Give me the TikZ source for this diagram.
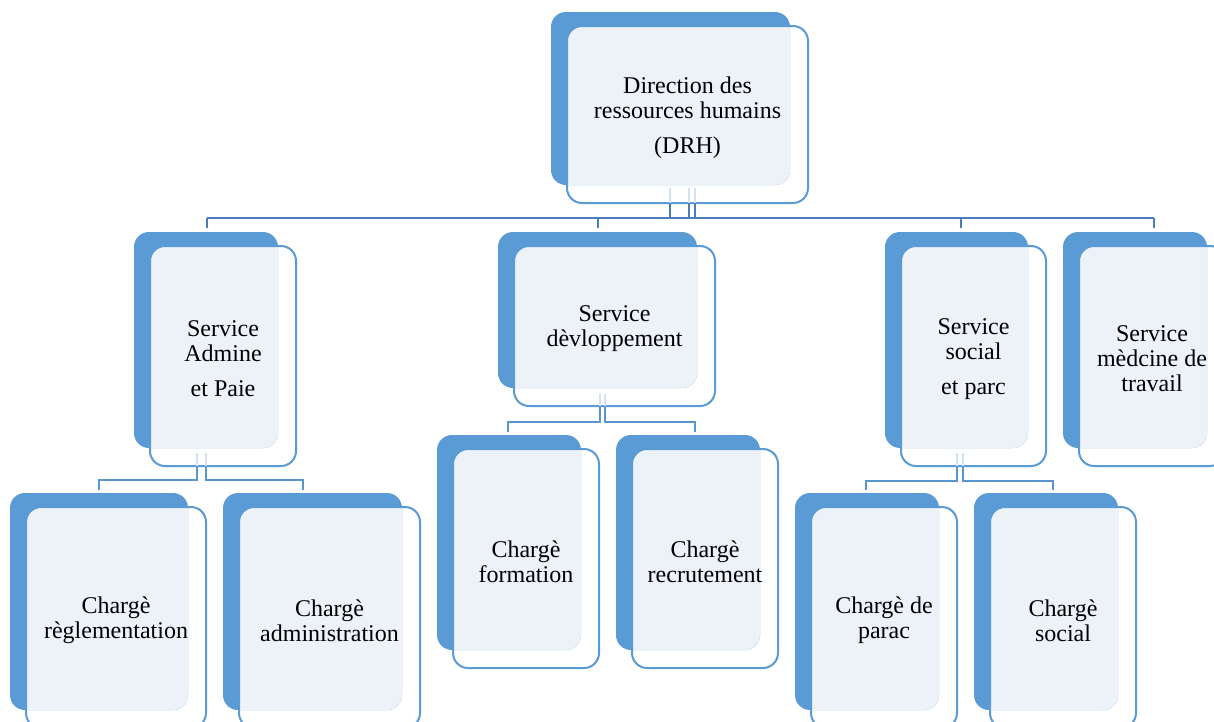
\documentclass[tikz,border=0pt]{standalone}
\usepackage{fontspec}
\setmainfont{Liberation Serif}
\definecolor{bk}{HTML}{5B9BD5}
\definecolor{fr}{HTML}{EDF2F9}
\definecolor{cnA}{HTML}{4A7EBB}
\definecolor{cnB}{HTML}{5A96CE}
\definecolor{fd}{HTML}{D3E1F2}
\tikzset{
  x=1pt, y=-1pt,
  backbox/.style={fill=bk, rounded corners=15pt, inner sep=0pt, outer sep=0pt, draw=none},
  frontbox/.style={draw=bk, line width=2pt, rounded corners=15pt, inner sep=0pt, outer sep=0pt},
  boxtext/.style={align=center, font=\fontsize{24}{25}\selectfont, text=black, inner sep=0pt},
  connA/.style={draw=cnA, line width=2.6pt, line join=miter},
  connB/.style={draw=cnB, line width=2.4pt, line join=miter},
  fadeline/.style={draw=fd, line width=2pt},
}
\newcommand\orgbox[6]{%
  \pgfmathsetmacro\obBW{#4-#2}\pgfmathsetmacro\obBH{#5-#3}%
  \pgfmathsetmacro\obBX{(#2+#4)/2}\pgfmathsetmacro\obBY{(#3+#5)/2}%
  \pgfmathsetmacro\obFW{#4-#2+2}\pgfmathsetmacro\obFH{#5-#3+4}%
  \pgfmathsetmacro\obFX{(#2+#4)/2+17}\pgfmathsetmacro\obFY{(#3+#5)/2+16}%
  \node[backbox, minimum width=\obBW pt, minimum height=\obBH pt] (#1B) at (\obBX,\obBY) {};
  \begin{scope}
    \clip[rounded corners=15pt] (#2,#3) rectangle (#4,#5);
    \fill[fr, rounded corners=15pt] ({#2+16},{#3+14}) rectangle ({#4+18},{#5+18});
  \end{scope}
  \node[frontbox, minimum width=\obFW pt, minimum height=\obFH pt] (#1) at (\obFX,\obFY) {};
  \node[boxtext] (#1T) at ([yshift=-3pt]#1.center) {#6};
}
\begin{document}
\begin{tikzpicture}
\fill[white] (0,0) rectangle (1214,721);
\useasboundingbox (0,0) rectangle (1214,721);

\orgbox{drh}{551}{12}{790}{185}{Direction des\\ressources humains\\[10pt](DRH)}
\orgbox{adm}{134}{232}{278}{448}{Service\\Admine\\[10pt]et Paie}
\orgbox{dev}{498}{232}{697}{388}{Service\\dèvloppement}
\orgbox{soc}{885}{232}{1028}{448}{Service\\social\\[10pt]et parc}
\orgbox{med}{1063}{232}{1207}{448}{Service\\mèdcine de\\travail}
\orgbox{reg}{10}{493}{188}{710}{Chargè\\règlementation}
\orgbox{adt}{223}{493}{402}{710}{Chargè\\administration}
\orgbox{frm}{437}{435}{581}{650}{Chargè\\formation}
\orgbox{rec}{616}{435}{760}{650}{Chargè\\recrutement}
\orgbox{par}{795}{493}{939}{710}{Chargè de\\parac}
\orgbox{scl}{974}{493}{1118}{710}{Chargè\\social}

% junction coordinates
\coordinate (r1) at (670,218);
\coordinate (r2) at (689,218);
\coordinate (r3) at (695,218);
\coordinate (t1) at (207,218);
\coordinate (t2) at (598,218);
\coordinate (t3) at (961,218);
\coordinate (t4) at (1154,218);
\coordinate (a1) at (197,480);
\coordinate (a2) at (206,480);
\coordinate (a3) at (303,480);
\coordinate (d1) at (600,422);
\coordinate (d2) at (605,422);
\coordinate (d3) at (695,422);
\coordinate (s1) at (957,481);
\coordinate (s2) at (963,481);
\coordinate (s3) at (1053,481);

% root connectors
\foreach \c in {r1,r2,r3}{
  \draw[fadeline] (\c |- drh.south) -- ++(0,-15);
  \draw[connA] (\c |- drh.south) -- (\c);
}
\draw[connA] (t1) -- (t4);
\draw[connA, shorten >=4pt] (t1) -- (t1 |- admB.north);
\draw[connA, shorten >=4pt] (t2) -- (t2 |- devB.north);
\draw[connA, shorten >=4pt] (t3) -- (t3 |- socB.north);
\draw[connA, shorten >=4pt] (t4) -- (t4 |- medB.north);

% Admine children
\foreach \c in {a1,a2}{
  \draw[fadeline] (\c |- adm.south) -- ++(0,-13);
}
\draw[connB, shorten <=3pt] (regB.north) |- (a1) -- (a1 |- adm.south);
\draw[connB, shorten <=3pt] (a3 |- adtB.north) -- (a3) -- (a2) -- (a2 |- adm.south);

% Developpement children
\foreach \c in {d1,d2}{
  \draw[fadeline] (\c |- dev.south) -- ++(0,-12);
}
\draw[connB, shorten <=3pt] ([xshift=-1pt]frmB.north) |- (d1) -- (d1 |- dev.south);
\draw[connB, shorten <=3pt] (d3 |- recB.north) -- (d3) -- (d2) -- (d2 |- dev.south);

% Social children
\foreach \c in {s1,s2}{
  \draw[fadeline] (\c |- soc.south) -- ++(0,-13);
}
\draw[connB, shorten <=3pt] ([xshift=-1pt]parB.north) |- (s1) -- (s1 |- soc.south);
\draw[connB, shorten <=3pt] (s3 |- sclB.north) -- (s3) -- (s2) -- (s2 |- soc.south);
\end{tikzpicture}
\end{document}
